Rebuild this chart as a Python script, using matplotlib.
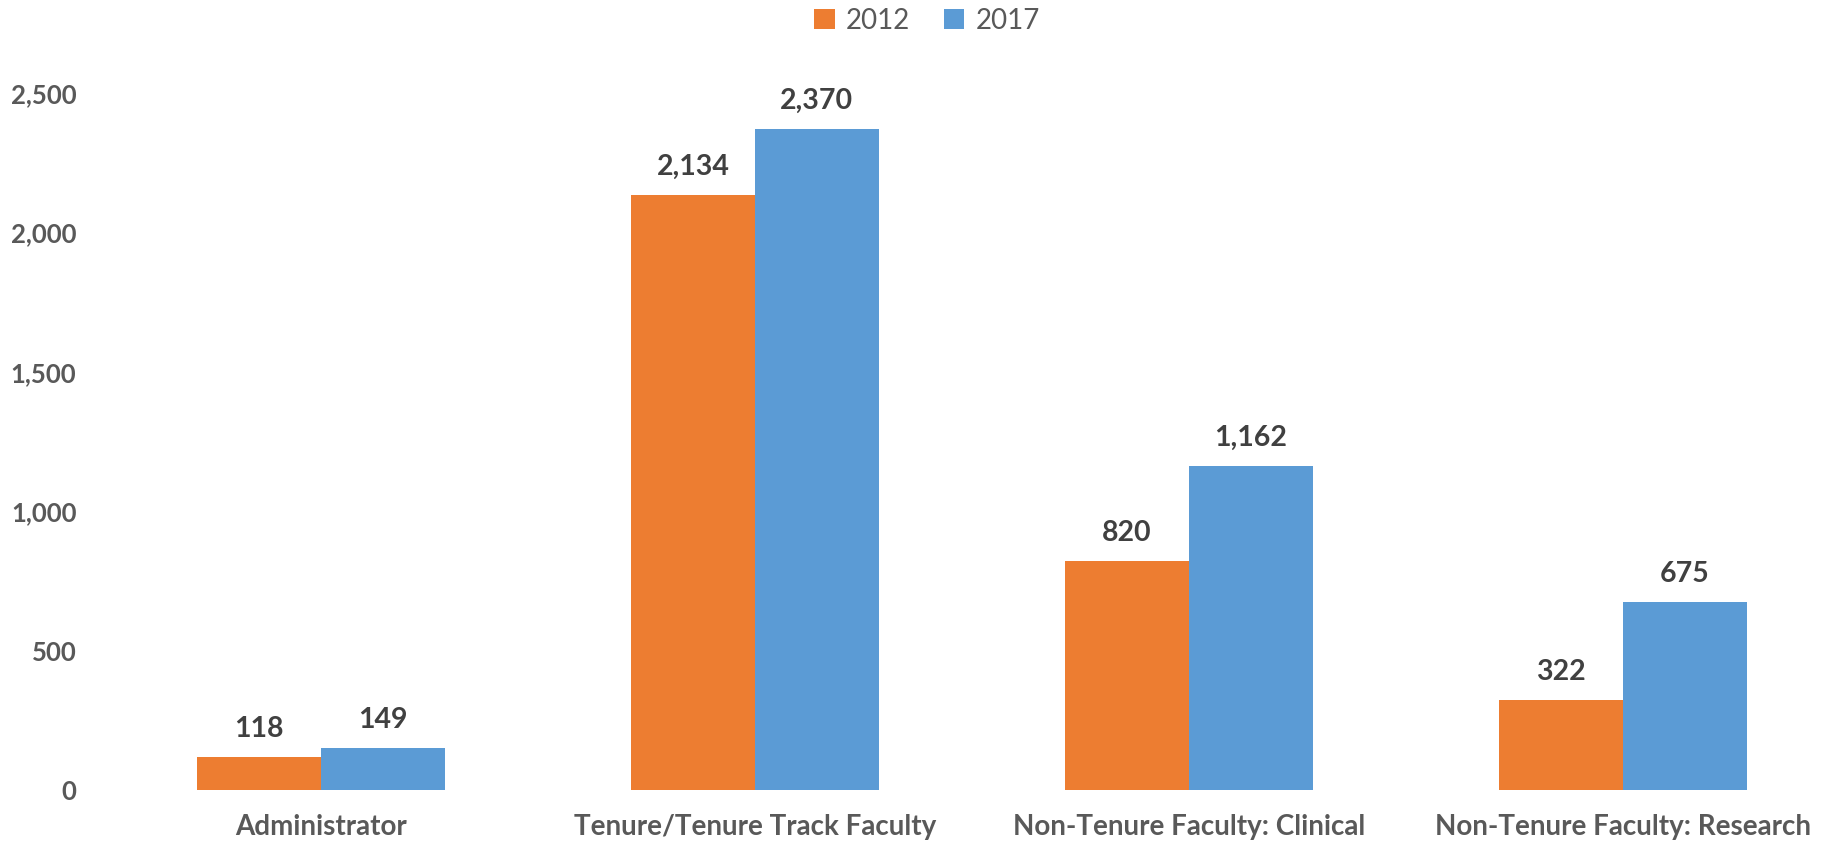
import matplotlib

matplotlib.use("Agg")
import matplotlib.pyplot as plt
import numpy as np
from matplotlib.ticker import FuncFormatter

categories = [
    "Administrator",
    "Tenure/Tenure Track Faculty",
    "Non-Tenure Faculty: Clinical",
    "Non-Tenure Faculty: Research",
]
series_names = ["2012", "2017"]
values_2012 = [118, 2134, 820, 322]
values_2017 = [149, 2370, 1162, 675]
y_ticks = [0, 500, 1000, 1500, 2000, 2500]

colors = ["#ED7D31", "#5B9BD5"]
text_grey = "#595959"
label_grey = "#404040"

plt.rcParams["font.family"] = ["Lato", "DejaVu Sans"]

fig = plt.figure(figsize=(18.24, 8.44), dpi=100)
ax = fig.add_axes([100 / 1824, 54 / 844, 1 - 100 / 1824, 697 / 844])

x = np.arange(len(categories))
width = 0.285
for i, (name, vals) in enumerate(zip(series_names, [values_2012, values_2017])):
    offset = (i - 0.5) * width
    bars = ax.bar(x + offset, vals, width, color=colors[i], label=name, linewidth=0)
    for b, v in zip(bars, vals):
        ax.annotate(
            f"{v:,}",
            (b.get_x() + b.get_width() / 2, b.get_height()),
            xytext=(0, 11),
            textcoords="offset points",
            ha="center",
            va="bottom",
            fontsize=20.5,
            fontweight="bold",
            color=label_grey,
        )

ax.set_ylim(0, 2500)
ax.set_xlim((100 - 321) / 434, (1824 - 321) / 434)
ax.set_yticks(y_ticks)
ax.yaxis.set_major_formatter(FuncFormatter(lambda v, _: f"{int(v):,}"))
ax.set_xticks(x)
ax.set_xticklabels(categories)
ax.tick_params(axis="y", length=0, pad=17, labelsize=18.5, labelcolor=text_grey)
ax.tick_params(axis="x", length=0, pad=17, labelsize=20, labelcolor=text_grey)
for lbl in ax.get_xticklabels() + ax.get_yticklabels():
    lbl.set_fontweight("bold")
for s in ax.spines.values():
    s.set_visible(False)

fig.legend(
    loc="center",
    bbox_to_anchor=(927 / 1824, 1 - 21 / 844),
    ncol=2,
    frameon=False,
    fontsize=20,
    labelcolor=text_grey,
    handlelength=0.75,
    handleheight=0.75,
    handletextpad=0.4,
    columnspacing=1.2,
)

fig.savefig("out.png", dpi=100)
